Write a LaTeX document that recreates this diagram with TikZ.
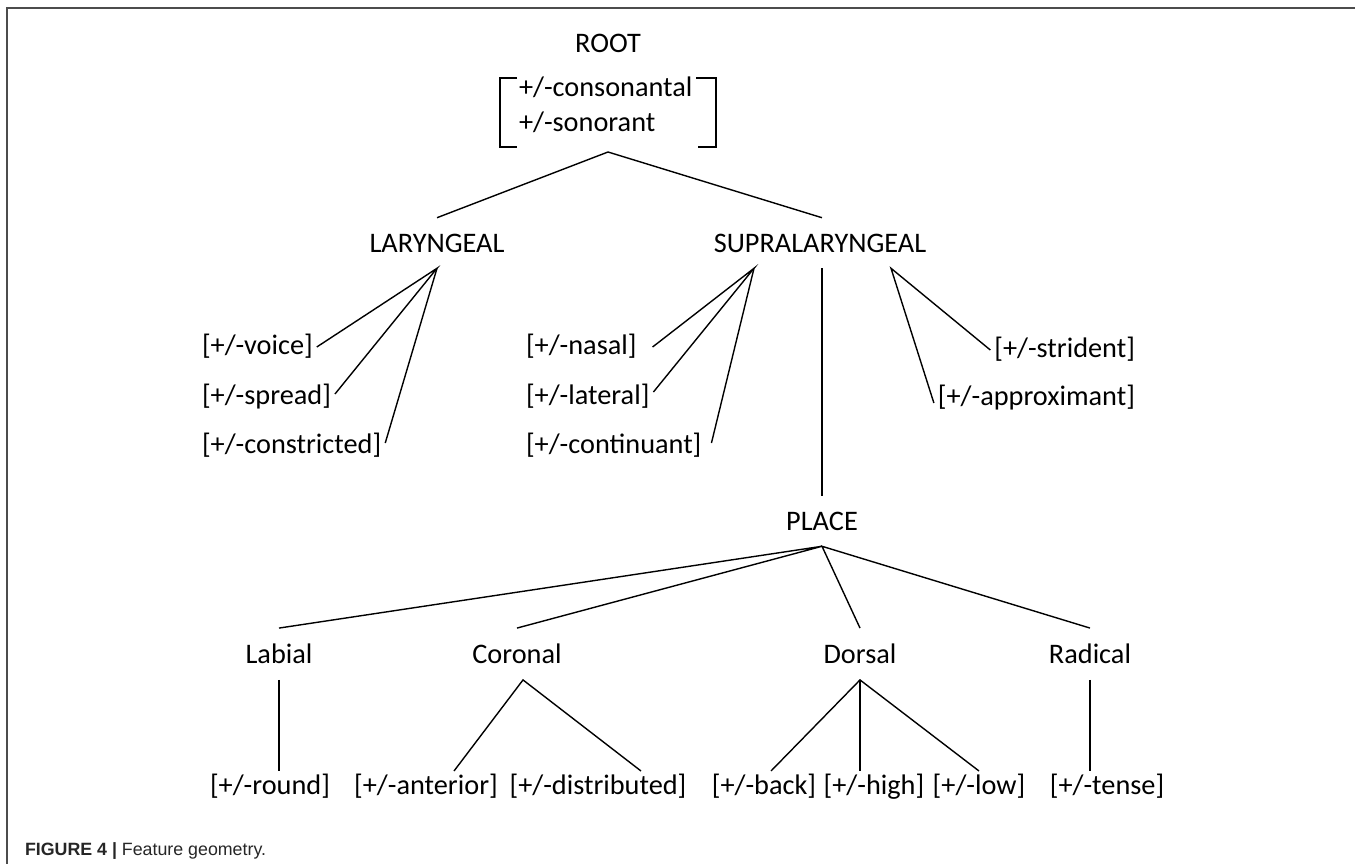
\documentclass[tikz,border=0pt]{standalone}
\usepackage{fontspec}
\setmainfont{Carlito}
\newfontfamily\captionfont{Liberation Sans}
\usepackage{tikz}

\begin{document}
\begin{tikzpicture}[x=1pt,y=-1pt]
\tikzset{inner sep=0pt, outer sep=0pt}
\tikzset{cat/.style={font=\fontsize{28.3}{34}\selectfont, inner xsep=4pt, inner ysep=16pt}}
\tikzset{feat/.style={font=\fontsize{28.3}{34}\selectfont, text height=21pt, text depth=7pt, inner xsep=4pt, inner ysep=2pt}}
\tikzset{branch/.style={line width=1.4pt}}

\useasboundingbox (0,0) rectangle (1355,864);
\draw [line width=2pt, black!70] (7,864) -- (7,8) -- (1355,8);

%root and its bracket
\node [cat] (root) at (608,43) {ROOT};
\node [feat, anchor=base west] (cons) at (515,97) {+/-consonantal};
\node [feat, anchor=base west] (son) at (515,132) {+/-sonorant};
\draw [branch] (517,78) -| (500,147) -- (517,147);
\draw [branch] (696,78) -| (716,147) -- (698,147);
\coordinate (rootfoot) at (608,152);

\node [cat] (lar) at (437,243) {LARYNGEAL};
\node [cat] (supra) at (820,243) {SUPRALARYNGEAL};
\draw [branch] (lar.north) -- (rootfoot) -- ([xshift=2pt]supra.north);

%laryngeal
\node [feat, anchor=west] (voice) at (198,347) {[+/-voice]};
\node [feat, anchor=west] (spread) at (198,397) {[+/-spread]};
\node [feat, anchor=west] (constr) at (198,446) {[+/-constricted]};
\draw [branch] (voice.east) -- (lar.south) -- ([yshift=3pt]spread.east);
\draw [branch] (lar.south) -- ([yshift=3pt]constr.east);

%supralaryngeal
\coordinate (supraL) at ([xshift=-66pt]supra.south);
\coordinate (supraR) at ([xshift=71pt]supra.south);
\node [feat, anchor=west] (nasal) at (522,347) {[+/-nasal]};
\node [feat, anchor=west] (lateral) at (522,397) {[+/-lateral]};
\node [feat, anchor=west] (contin) at (522,446) {[+/-continuant]};
\draw [branch] ([xshift=12pt]nasal.east) -- (supraL) -- ([yshift=5pt]lateral.east);
\draw [branch] (supraL) -- ([xshift=6pt,yshift=3pt]contin.east);

\node [feat, anchor=east] (strid) at (1139,350) {[+/-strident]};
\node [feat, anchor=east] (approx) at (1139,398) {[+/-approximant]};
\draw [branch] (strid.west) -- (supraR) -- ([yshift=-5pt]approx.west);

%place
\node [cat] (place) at (822,521) {PLACE};
\draw [branch] ([xshift=2pt]supra.south) -- (place.north);

\node [cat] (labial) at (279,654) {Labial};
\node [cat] (coronal) at (517,654) {Coronal};
\node [cat] (dorsal) at (860,654) {Dorsal};
\node [cat] (radical) at (1090,654) {Radical};
\draw [branch] (labial.north) -- (place.south) -- (coronal.north);
\draw [branch] (dorsal.north) -- (place.south) -- (radical.north);

%terminal features
\node [feat] (round) at (270,787) {[+/-round]};
\node [feat] (anter) at (426,787) {[+/-anterior]};
\node [feat] (distr) at (598,787) {[+/-distributed]};
\node [feat] (back) at (764,787) {[+/-back]};
\node [feat] (high) at (874,787) {[+/-high]};
\node [feat] (low) at (979,787) {[+/-low]};
\node [feat] (tense) at (1107,787) {[+/-tense]};

\draw [branch] (labial.south) -- (labial.south |- round.north);
\draw [branch] ([xshift=28pt]anter.north) -- ([xshift=6pt]coronal.south) -- ([xshift=43pt]distr.north);
\draw [branch] ([xshift=7pt]back.north) -- (dorsal.south) -- (low.north);
\draw [branch] (dorsal.south) -- (dorsal.south |- high.north);
\draw [branch] (radical.south) -- (radical.south |- tense.north);

\node [anchor=base west, font=\fontsize{17.8}{21}\selectfont\captionfont, text=black!85] (caption) at (25,855) {\textbf{FIGURE 4 |} Feature geometry.};

\end{tikzpicture}
\end{document}
